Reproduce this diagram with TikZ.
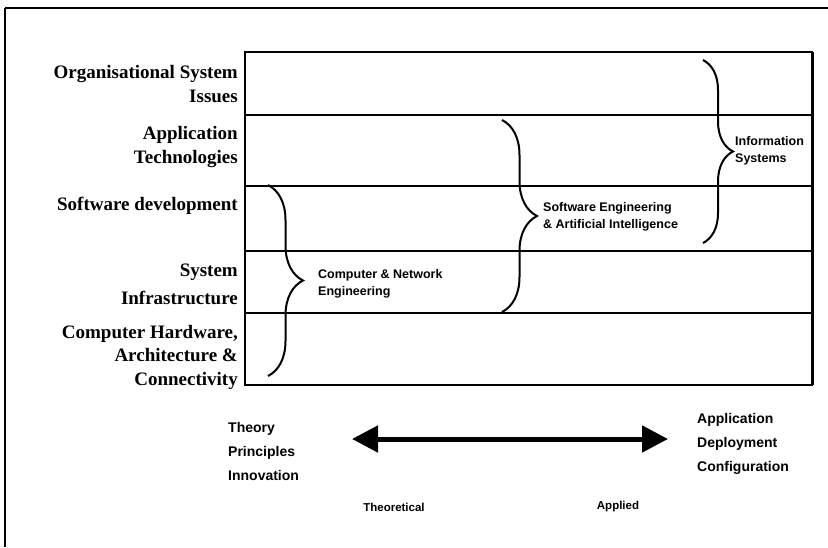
\documentclass[tikz,border=0pt]{standalone}
\usepackage{fontspec}
\setmainfont{Liberation Serif}
\setsansfont{Liberation Sans}
\usetikzlibrary{positioning, arrows.meta, calc, decorations.pathreplacing}

\begin{document}
\begin{tikzpicture}[x=1pt, y=-1pt,
  topic/.style={font=\fontsize{19}{23.5}\selectfont\bfseries, align=right, anchor=east, inner sep=0pt},
  field/.style={font=\fontsize{12.5}{17.5}\selectfont\sffamily\bfseries, align=left, anchor=west, inner sep=0pt},
  spectrum/.style={font=\fontsize{14}{24}\selectfont\sffamily\bfseries, align=left, anchor=west, inner sep=0pt},
  pole/.style={font=\fontsize{11.5}{14}\selectfont\sffamily\bfseries, inner sep=0pt},
  brc/.style={decorate, decoration={brace, amplitude=#1}, line width=2pt},
  arr/.style={{Triangle[length=26pt, width=26pt]}-{Triangle[length=26pt, width=26pt]}, line width=5pt},
]
  \useasboundingbox (0,0) rectangle (828,547);
  \draw[line width=1.5pt] (828,8) -- (5,8);
  \draw[line width=2.5pt] (5,8) -- (5,547);

  \draw[line width=1.5pt] (245,52) rectangle (812,385);
  \draw[line width=3pt] (812,52) -- (812,385);
  \foreach \y in {115,186,251,313}
    \draw[line width=1.3pt] (245,\y) -- (812,\y);

  \node[topic] (org) at (238,84) {Organisational System\\Issues};
  \node[topic] (apptech) at (238,147) {Application\\Technologies};
  \node[topic] (swdev) at (238,206) {Software development};
  \node[topic] (sysinf) at (238,284) {System\\[4.5pt]Infrastructure};
  \node[topic] (hw) at (238,357) {Computer Hardware,\\Architecture \&\\Connectivity};

  \coordinate (cne-top) at (268,185);
  \coordinate (cne-bot) at (268,376);
  \coordinate (sea-top) at (502,120);
  \coordinate (sea-bot) at (502,312);
  \coordinate (is-top) at (703,60);
  \coordinate (is-bot) at (703,243);
  \draw[brc=35pt] (cne-top) -- (cne-bot);
  \draw[brc=35pt] (sea-top) -- (sea-bot);
  \draw[brc=30pt] (is-top) -- (is-bot);

  \node[field] (cne) at (318,284) {Computer \& Network\\Engineering};
  \node[field] (sea) at (543,217) {Software Engineering\\\& Artificial Intelligence};
  \node[field] (is) at (735,151) {Information\\Systems};

  \node[spectrum] (theory) at (228,451) {Theory\\Principles\\Innovation};
  \node[spectrum] (practice) at (697,444) {Application\\Deployment\\Configuration};

  \coordinate (theo-end) at (352,439);
  \coordinate (appl-end) at (668,439);
  \draw[arr] (theo-end) -- (appl-end);

  \node[pole] (theoretical) at (394,507) {Theoretical};
  \node[pole] (applied) at (618,507) {Applied};
\end{tikzpicture}
\end{document}
